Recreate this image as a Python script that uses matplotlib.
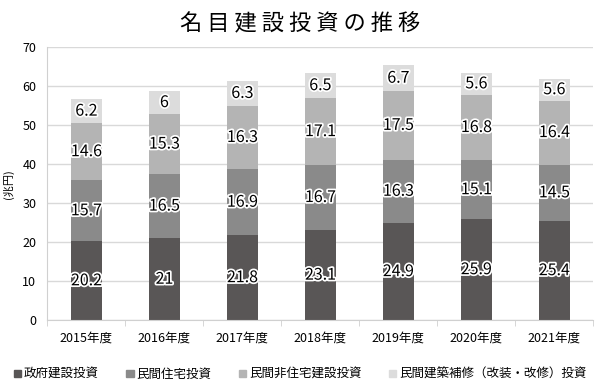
import numpy as np
import matplotlib.pyplot as plt
import matplotlib.patheffects as pe
from matplotlib.patches import Patch

plt.rcParams['font.family'] = ['Noto Sans CJK JP', 'DejaVu Sans']

# データ (兆円)
years = ['2015年度', '2016年度', '2017年度', '2018年度', '2019年度', '2020年度', '2021年度']
gov = [20.2, 21, 21.8, 23.1, 24.9, 25.9, 25.4]
house = [15.7, 16.5, 16.9, 16.7, 16.3, 15.1, 14.5]
nonhouse = [14.6, 15.3, 16.3, 17.1, 17.5, 16.8, 16.4]
repair = [6.2, 6, 6.3, 6.5, 6.7, 5.6, 5.6]
names = ['政府建設投資', '民間住宅投資', '民間非住宅建設投資', '民間建築補修（改装・改修）投資']
colors = ['#595656', '#8a8a8a', '#b4b4b4', '#dcdcdc']

fig = plt.figure(figsize=(6, 3.9), dpi=100)
ax = fig.add_axes([0.079, 0.179, 0.91, 0.7])

x = np.arange(len(years))
bottom = np.zeros(len(years))
for vals, c in zip([gov, house, nonhouse, repair], colors):
    vals = np.array(vals)
    ax.bar(x, vals, bottom=bottom, width=0.4, color=c, zorder=2)
    for xi, b, v in zip(x, bottom, vals):
        ax.text(xi, b + v / 2, f'{v:g}', ha='center', va='center', fontsize=11.5,
                color='black', zorder=3,
                path_effects=[pe.withStroke(linewidth=2.5, foreground='white')])
    bottom += vals

ax.set_xlim(-0.5, len(years) - 0.5)
ax.set_ylim(0, 70)
ax.set_yticks(range(0, 71, 10))
ax.set_xticks(x)
ax.set_xticklabels(years, fontsize=9)
ax.set_xticks(np.arange(-0.5, len(years), 1), minor=True)
ax.tick_params(axis='x', which='major', length=0, pad=8)
ax.tick_params(axis='x', which='minor', length=4, color='#d0d0d0')
ax.tick_params(axis='y', length=0, labelsize=9, pad=8)
ax.yaxis.grid(True, color='#d9d9d9', lw=1, zorder=0)
for s in ['top', 'right']:
    ax.spines[s].set_visible(False)
for s in ['left', 'bottom']:
    ax.spines[s].set_color('#d0d0d0')
ax.set_ylabel('(兆円)', fontsize=8, labelpad=6)

fig.text(0.5, 0.94, ' '.join('名目建設投資の推移'), ha='center', va='center', fontsize=16)

handles = [Patch(color=c) for c in colors]
fig.legend(handles, names, loc='center', bbox_to_anchor=(0.5, 0.04), ncol=4,
           frameon=False, fontsize=9, handlelength=0.6, handleheight=0.6,
           handletextpad=0.2, columnspacing=2.2)

fig.savefig('out.png', dpi=100)
